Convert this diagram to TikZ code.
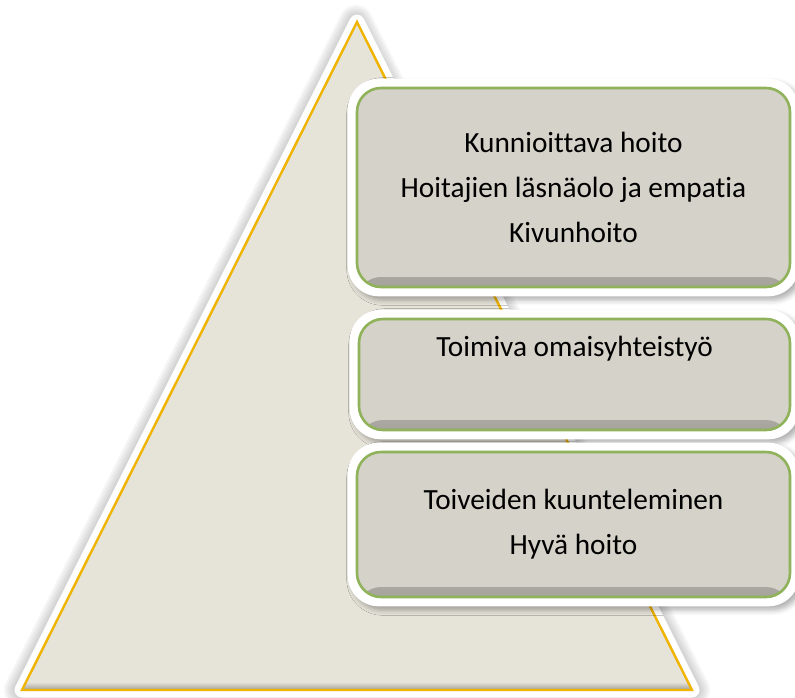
\documentclass[tikz,border=0pt]{standalone}
\usepackage{fontspec}
\setmainfont[Ligatures=NoCommon]{Carlito}
\usetikzlibrary{shadows.blur}
\definecolor{pyrfill}{HTML}{E6E3D9}
\definecolor{pyredge}{HTML}{F0B300}
\definecolor{boxfill}{HTML}{D4D2C9}
\definecolor{boxedge}{HTML}{8FB25A}
\pgfdeclarelayer{base}
\pgfdeclarelayer{rims}
\pgfsetlayers{base,rims,main}
\tikzset{
  rim/.style={draw=white, line width=15pt, line join=round},
  tier/.style={rectangle, rounded corners=24pt, fill=boxfill, draw=boxedge,
    line width=2.6pt, inner sep=0pt,
    path picture={\shade[top color=boxfill, bottom color=boxfill!78!black]
      ([yshift=10pt]path picture bounding box.south west) rectangle
      (path picture bounding box.south east);}},
  tierrim/.style={fill=white, rounded corners=31pt,
    blur shadow={shadow xshift=4pt, shadow yshift=-4pt,
      shadow blur radius=5pt, shadow opacity=30}},
  tiertext/.style={align=center, text=black, font=\fontsize{29.3}{45}\selectfont}
}
\begin{document}
\begin{tikzpicture}[x=1pt,y=-1pt]
  \useasboundingbox (0,0) rectangle (795,697);
  % tiers
  \node[tier, minimum width=433pt, minimum height=199pt] (top) at (573.5,187.5) {};
  \node[tier, minimum width=431pt, minimum height=111pt] (mid) at (574.5,374.5) {};
  \node[tier, minimum width=433pt, minimum height=145pt] (low) at (573.5,524.5) {};
  % white rims with soft shadow behind each tier
  \begin{pgfonlayer}{rims}
    \foreach \t in {top,mid,low}
      \path[tierrim] ([shift={(-8pt,8pt)}]\t.north west) rectangle ([shift={(8pt,-8pt)}]\t.south east);
  \end{pgfonlayer}
  % pyramid with white rim and soft shadow
  \begin{pgfonlayer}{base}
    \coordinate (apex) at (357,22);
    \coordinate (bl) at (22,690);
    \coordinate (br) at (692,690);
    \foreach \w in {34,30,26,22,18}
      \draw[black, opacity=0.035, line width=\w pt, line join=round]
        ([xshift=-1pt]apex) -- ([xshift=-1pt]bl) -- ([xshift=1pt]br) -- cycle;
    \draw[rim, fill=white] (apex) -- (bl) -- (br) -- cycle;
    \fill[pyrfill] (apex) -- (bl) -- (br) -- cycle;
    \shade[top color=pyrfill, bottom color=pyrfill!70!black] ([xshift=4pt, yshift=8pt]bl) -- ([xshift=-4pt, yshift=8pt]br) -- (br) -- (bl) -- cycle;
    \draw[pyredge, line width=2.4pt, line join=miter] (apex) -- (bl) -- (br) -- cycle;
  \end{pgfonlayer}
  % tier texts
  \node[tiertext] (toptext) at (top.center) {Kunnioittava hoito\\Hoitajien läsnäolo ja empatia\\Kivunhoito};
  \node[tiertext] (midtext) at ([yshift=-31pt]mid.north) {Toimiva omaisyhteistyö};
  \node[tiertext] (lowtext) at (low.center) {Toiveiden kuunteleminen\\Hyvä hoito};
\end{tikzpicture}
\end{document}
